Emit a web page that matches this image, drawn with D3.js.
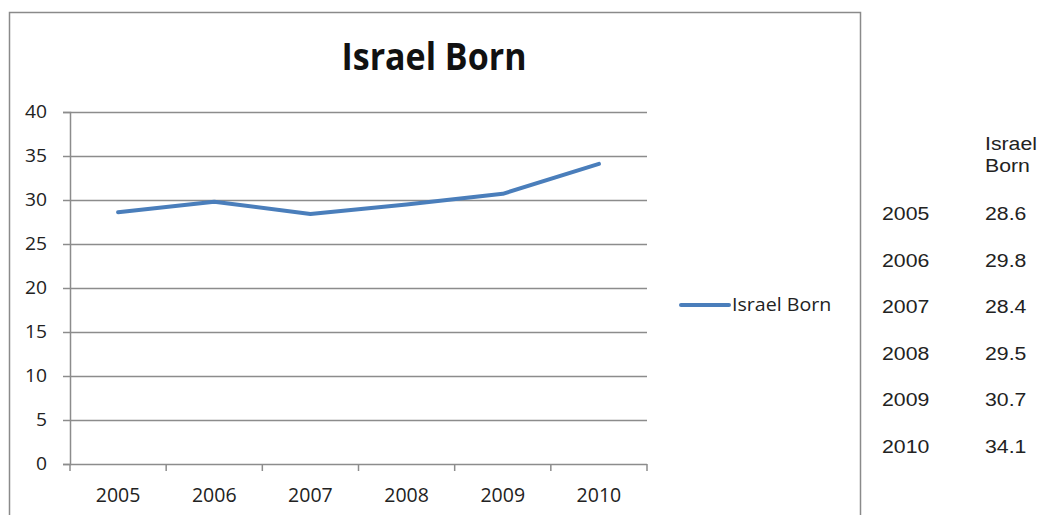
<!DOCTYPE html>
<html>
<head>
<meta charset="utf-8">
<script src="https://cdn.jsdelivr.net/npm/d3@7"></script>
<style>
  html, body { margin: 0; padding: 0; background: #fff; }
  svg { display: block; }
</style>
</head>
<body>
<svg id="chart" width="1039" height="515"></svg>
<script>
// Data
const years = ["2005", "2006", "2007", "2008", "2009", "2010"];
const israelBorn = [28.6, 29.8, 28.4, 29.5, 30.7, 34.1];
const yTicks = [0, 5, 10, 15, 20, 25, 30, 35, 40];
const seriesName = "Israel Born";
const chartTitle = "Israel Born";
const tableHeader = ["Israel", "Born"];

const svg = d3.select("#chart");
const W = 1039, H = 515;

const chartFont = "'Open Sans', Lato, sans-serif";
const tableFont = "'Liberation Sans', Arial, sans-serif";
const lineColor = "#4a7ebb";
const gridColor = "#8c8c8c";

// Stretch a text element horizontally by a factor
function widen(sel, k) {
  sel.each(function () {
    const len = this.getComputedTextLength();
    d3.select(this).attr("textLength", len * k).attr("lengthAdjust", "spacingAndGlyphs");
  });
}

// Chart frame
svg.append("path")
  .attr("d", `M9.5,${H + 2} V12.5 H860.5 V${H + 2}`)
  .attr("fill", "none")
  .attr("stroke", "#8a8a8a")
  .attr("stroke-width", 1.5);

// Plot area
const plot = { left: 70, right: 647, top: 112, bottom: 464 };

const x = d3.scaleBand().domain(years).range([plot.left, plot.right]);
const y = d3.scaleLinear().domain([0, 40]).range([plot.bottom, plot.top]);

// Horizontal gridlines
svg.append("g")
  .selectAll("line")
  .data(yTicks.filter(t => t > 0))
  .join("line")
  .attr("x1", plot.left)
  .attr("x2", plot.right)
  .attr("y1", d => Math.round(y(d)) + 0.5)
  .attr("y2", d => Math.round(y(d)) + 0.5)
  .attr("stroke", gridColor)
  .attr("stroke-width", 1.5);

// Y axis
const yAxis = svg.append("g")
  .attr("transform", `translate(${plot.left},0)`)
  .call(d3.axisLeft(y).tickValues(yTicks).tickSize(7).tickPadding(16));
yAxis.select(".domain").attr("stroke", gridColor).attr("stroke-width", 1.5);
yAxis.selectAll(".tick line").attr("stroke", gridColor).attr("stroke-width", 1.5);
yAxis.selectAll(".tick text")
  .attr("font-family", chartFont)
  .attr("font-size", 17.5)
  .attr("fill", "#222")
  .call(widen, 1.1);

// X axis with ticks between categories
const xAxisG = svg.append("g")
  .attr("transform", `translate(0,${plot.bottom})`);
xAxisG.append("line")
  .attr("x1", plot.left).attr("x2", plot.right)
  .attr("y1", 0.5).attr("y2", 0.5)
  .attr("stroke", gridColor).attr("stroke-width", 1.5);
const boundaries = years.map(d => x(d)).concat([x(years[years.length - 1]) + x.bandwidth()]);
xAxisG.selectAll(".xtick")
  .data(boundaries)
  .join("line")
  .attr("class", "xtick")
  .attr("x1", d => d).attr("x2", d => d)
  .attr("y1", 0).attr("y2", 7)
  .attr("stroke", gridColor).attr("stroke-width", 1.5);
xAxisG.selectAll(".xlabel")
  .data(years)
  .join("text")
  .attr("class", "xlabel")
  .attr("x", d => x(d) + x.bandwidth() / 2)
  .attr("y", 38)
  .attr("text-anchor", "middle")
  .attr("font-family", chartFont)
  .attr("font-size", 19.5)
  .attr("fill", "#222")
  .text(d => d);

// Data line
const line = d3.line()
  .x((d, i) => x(years[i]) + x.bandwidth() / 2)
  .y(d => y(d));
svg.append("path")
  .datum(israelBorn)
  .attr("d", line)
  .attr("fill", "none")
  .attr("stroke", lineColor)
  .attr("stroke-width", 4)
  .attr("stroke-linejoin", "round")
  .attr("stroke-linecap", "round");

// Title
svg.append("text")
  .attr("x", 434)
  .attr("y", 70)
  .attr("text-anchor", "middle")
  .attr("font-family", chartFont)
  .attr("font-weight", "bold")
  .attr("font-size", 37)
  .attr("fill", "#111")
  .attr("textLength", 185)
  .attr("lengthAdjust", "spacingAndGlyphs")
  .text(chartTitle);

// Legend
svg.append("line")
  .attr("x1", 681).attr("x2", 729)
  .attr("y1", 305).attr("y2", 305)
  .attr("stroke", lineColor)
  .attr("stroke-width", 4)
  .attr("stroke-linecap", "round");
svg.append("text")
  .attr("x", 732)
  .attr("y", 311)
  .attr("font-family", chartFont)
  .attr("font-size", 18.5)
  .attr("fill", "#222")
  .text(seriesName)
  .call(widen, 1.06);

// Data table on the right
const table = svg.append("g").attr("font-family", tableFont).attr("font-size", 18).attr("fill", "#222");
table.selectAll(".head")
  .data(tableHeader)
  .join("text")
  .attr("class", "head")
  .attr("x", 985)
  .attr("y", (d, i) => 150 + i * 22)
  .text(d => d);
const rowY = d3.scalePoint().domain(years).range([220, 453]);
table.selectAll(".year")
  .data(years)
  .join("text")
  .attr("class", "year")
  .attr("x", 882)
  .attr("y", d => rowY(d))
  .text(d => d);
table.selectAll(".val")
  .data(israelBorn)
  .join("text")
  .attr("class", "val")
  .attr("x", 985)
  .attr("y", (d, i) => rowY(years[i]))
  .text(d => d.toFixed(1));
table.selectAll("text").call(widen, 1.18);
</script>
</body>
</html>
